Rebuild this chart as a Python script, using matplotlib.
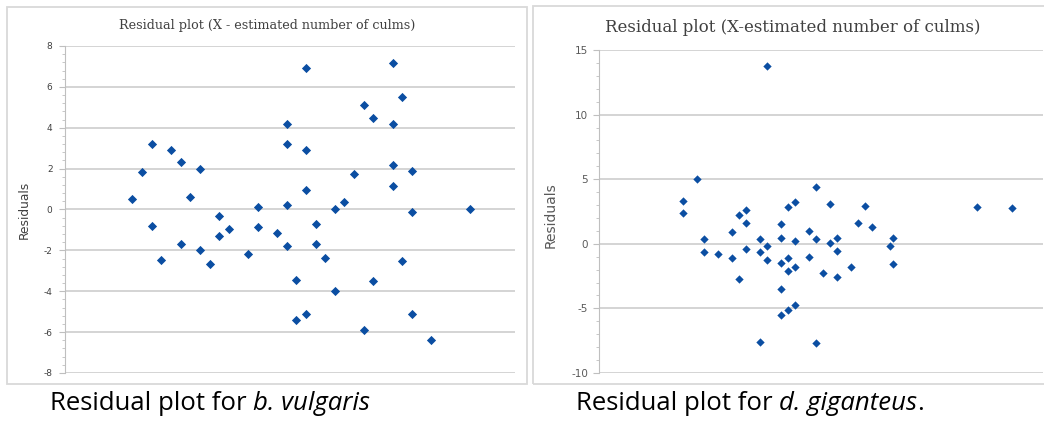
import matplotlib
matplotlib.use("Agg")
import matplotlib.pyplot as plt
from matplotlib.patches import Rectangle
from matplotlib.ticker import MultipleLocator

plt.rcParams["axes.unicode_minus"] = False

# ---- data: b. vulgaris (x = estimated number of culms, arbitrary index scale) ----
vul_x = [7, 8, 9, 9, 10, 11, 12, 12, 13, 14, 14, 15, 16, 16, 17, 19, 20, 20,
         22, 23, 23, 23, 23, 24, 24, 25, 25, 25, 25, 26, 26, 27, 28, 28, 29,
         30, 31, 31, 32, 32, 34, 34, 34, 34, 35, 35, 36, 36, 36, 38, 42]
vul_res = [0.5, 1.85, 3.2, -0.8, -2.45, 2.9, 2.3, -1.7, 0.6, 2.0, -2.0, -2.65,
           -0.3, -1.3, -0.95, -2.2, 0.1, -0.87,
           -1.16, 4.2, 3.2, 0.2, -1.8, -3.43, -5.43, 6.9, 2.9, 0.93, -5.1,
           -0.73, -1.7, -2.35, 0.0, -3.97, 0.35,
           1.72, 5.1, -5.9, 4.46, -3.5, 7.16, 4.17, 2.16, 1.17, 5.5, -2.5,
           1.87, -0.12, -5.1, -6.4, 0.03]

# ---- data: d. giganteus ----
gig_x = [12, 12, 14, 15, 15, 17, 19, 19, 20, 20, 21, 21, 21,
         23, 23, 23, 24, 24, 24, 26, 26, 26, 26, 26,
         27, 27, 27, 27, 28, 28, 28, 28, 30, 30, 31, 31, 31,
         32, 33, 33, 34, 34, 34, 36, 37, 38, 39, 41.6, 42, 42, 54, 59]
gig_res = [3.3, 2.35, 5.05, 0.4, -0.6, -0.8, 0.9, -1.1, 2.25, -2.7, 2.6, 1.6, -0.4,
           0.35, -0.65, -7.6, 13.75, -0.2, -1.25, 1.5, 0.45, -1.5, -3.5, -5.5,
           2.85, -1.1, -2.1, -5.1, 3.25, 0.25, -1.8, -4.7, 1.0, -1.0, 4.4, 0.35, -7.7,
           -2.25, 3.1, 0.1, 0.45, -0.55, -2.55, -1.8, 1.6, 2.95, 1.3, -0.2, 0.45, -1.55,
           2.85, 2.75]

title_left = "Residual plot (X - estimated number of culms)"
title_right = "Residual plot (X-estimated number of culms)"
ylabel = "Residuals"
caption_left = ("Residual plot for ", "b. vulgaris", "")
caption_right = ("Residual plot for ", "d. giganteus", ".")

W, H = 1044, 421
fig = plt.figure(figsize=(W / 100, H / 100), dpi=100)
fig.patch.set_facecolor("white")

def fx(px):
    return px / W

def fy(py):
    return 1 - py / H

marker_color = "#0B4EA2"
grid_color = "#D4D4D4"

# outer chart boxes
for (x0, y0, x1, y1) in [(7, 7, 527, 384), (533, 6, 1046, 384)]:
    fig.patches.append(Rectangle((fx(x0), fy(y1)), fx(x1 - x0), (y1 - y0) / H,
                                 transform=fig.transFigure, fill=False,
                                 edgecolor="#D9D9D9", linewidth=1.3))

# ---------------- left panel ----------------
axL = fig.add_axes([fx(65), fy(373), fx(515 - 65), (373 - 46) / H])
axL.scatter(vul_x, vul_res, marker="D", s=22, color=marker_color, linewidths=0, zorder=3)
axL.set_xlim(0, 46.7)
axL.set_ylim(-8, 8)
axL.yaxis.set_major_locator(MultipleLocator(2))
axL.yaxis.set_minor_locator(MultipleLocator(0.4))
axL.set_xticks([])
axL.grid(axis="y", color=grid_color, linewidth=1.4)
axL.set_axisbelow(True)
for s in ["top", "right", "bottom"]:
    axL.spines[s].set_visible(False)
axL.spines["left"].set_color("#BFBFBF")
axL.tick_params(axis="y", which="major", length=4, color="#BFBFBF",
                labelsize=6.5, labelcolor="#404040", pad=5)
axL.tick_params(axis="y", which="minor", length=2.5, color="#BFBFBF")
axL.set_ylabel(ylabel, fontsize=8.8, color="#404040", family="DejaVu Sans")
axL.yaxis.set_label_coords(-0.077, 0.5)
fig.text(fx(267), fy(25), title_left, ha="center", va="center",
         fontsize=9.2, family="DejaVu Serif", color="#404040")

# ---------------- right panel ----------------
axR = fig.add_axes([fx(599), fy(373), fx(1043 - 599), (373 - 50) / H])
axR.scatter(gig_x, gig_res, marker="D", s=18, color=marker_color, linewidths=0, zorder=3)
axR.set_xlim(0, 63.4)
axR.set_ylim(-10, 15)
axR.yaxis.set_major_locator(MultipleLocator(5))
axR.yaxis.set_minor_locator(MultipleLocator(1))
axR.set_xticks([])
axR.grid(axis="y", color=grid_color, linewidth=1.4)
axR.set_axisbelow(True)
for s in ["top", "right", "bottom"]:
    axR.spines[s].set_visible(False)
axR.spines["left"].set_color("#BFBFBF")
axR.tick_params(axis="y", which="major", length=4, color="#BFBFBF",
                labelsize=7.5, labelcolor="#595959", pad=4)
axR.tick_params(axis="y", which="minor", length=2.5, color="#BFBFBF")
axR.set_ylabel(ylabel, fontsize=10, color="#595959", family="DejaVu Sans")
axR.yaxis.set_label_coords(-0.094, 0.49)
fig.text(fx(793), fy(27), title_right, ha="center", va="center",
         fontsize=12, family="DejaVu Serif", color="#404040")

# ---------------- captions ----------------
cap_font = dict(fontsize=18.5, family="Open Sans", color="black")

def caption(x_px, parts):
    r = fig.canvas.get_renderer()
    t = fig.text(fx(x_px), fy(404), parts[0], ha="left", va="center", **cap_font)
    bb = t.get_window_extent(r)
    t2 = fig.text(bb.x1 / W, fy(404), parts[1], ha="left", va="center",
                  style="italic", **cap_font)
    if parts[2]:
        bb2 = t2.get_window_extent(r)
        fig.text(bb2.x1 / W, fy(404), parts[2], ha="left", va="center", **cap_font)

fig.canvas.draw()
caption(50, caption_left)
caption(576, caption_right)

fig.savefig("out.png", dpi=100, facecolor="white")
